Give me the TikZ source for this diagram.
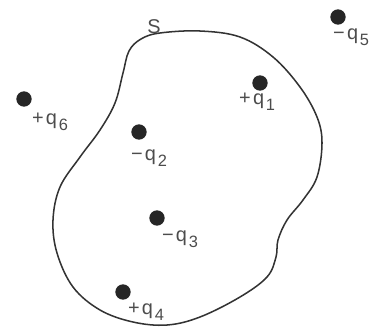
\documentclass[tikz,border=0pt]{standalone}
\usepackage{fontspec}
\setmainfont{Liberation Sans}
\usetikzlibrary{positioning}
\newcommand{\chg}[2]{#1\kern2pt q\kern1.5pt\raisebox{-0.6ex}{\fontsize{14}{14}\selectfont #2}}

\begin{document}
\begin{tikzpicture}[x=0.03cm,y=-0.03cm,
  charge/.style={circle,fill=black!85,inner sep=0pt,minimum size=0.46cm},
  lbl/.style={font=\fontsize{17}{17}\selectfont,text=black!70,inner sep=0pt}]
\useasboundingbox(0,0)rectangle(371,330);
% the closed surface
\draw[line width=1.3pt,black!80]plot[smooth cycle,tension=0.6]coordinates{
 (141,39)(160,33)(200,31)(240,37)(273,57)(300,87)(317,117)(322,143)(317,177)
 (303,200)(287,220)(278,240)(276,257)(267,277)(240,297)(200,317)(167,325)
 (133,322)(100,310)(73,287)(57,253)(53,220)(60,187)(80,157)(100,130)(115,103)
 (123,73)(129,51)};
\node[lbl](S)at(154,27){S};
% charges
\node[charge](q1)at(260,83){};
\node[charge](q2)at(139,132){};
\node[charge](q3)at(157,218){};
\node[charge](q4)at(123,292){};
\node[charge](q5)at(338,17){};
\node[charge](q6)at(24,99){};
\node[lbl](l1)at(257,102){\chg{+}{1}};
\node[lbl](l2)at(149,158){\chg{−}{2}};
\node[lbl](l3)at(180,239){\chg{−}{3}};
\node[lbl](l4)at(146,312){\chg{+}{4}};
\node[lbl](l5)at(351,37){\chg{−}{5}};
\node[lbl](l6)at(50,122){\chg{+}{6}};
\end{tikzpicture}
\end{document}
